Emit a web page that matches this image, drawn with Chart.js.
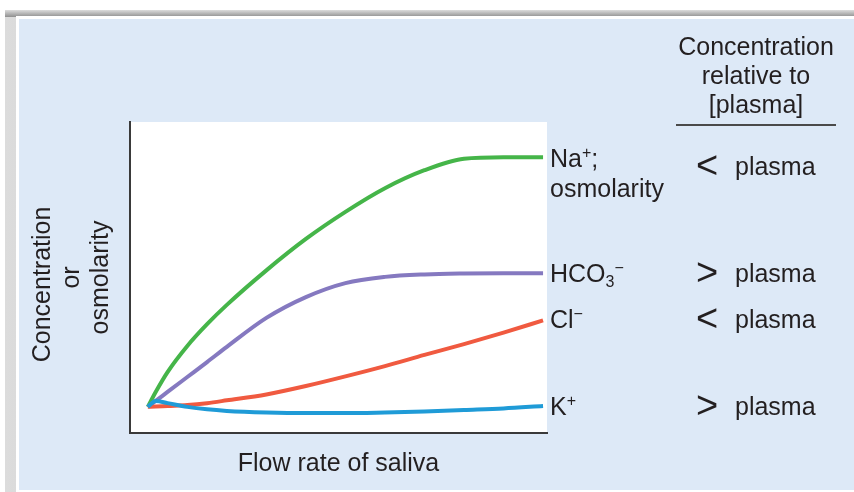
<!DOCTYPE html>
<html>
<head>
<meta charset="utf-8">
<script src="https://cdn.jsdelivr.net/npm/chart.js@4"></script>
<style>
  html, body { margin: 0; padding: 0; background: #fff; }
  body { width: 854px; height: 492px; position: relative; overflow: hidden;
         font-family: "Liberation Sans", Arial, sans-serif; color: #231f20; }
  .frame { position: absolute; left: 5px; top: 10px; right: 0; bottom: 0;
           background: linear-gradient(to right, #dcdcdc, #8f8f8f); }
  .frameTop { position: absolute; left: 5px; top: 10px; right: 0; height: 7px;
              background: linear-gradient(to bottom, #dcdcdc, #8f8f8f); }
  .inner { position: absolute; left: 16px; top: 16px; right: 0; bottom: 0; background: #fff; }
  .panel { position: absolute; left: 19px; top: 19px; right: 0; height: 471px; background: #dde9f7; }
  #wrap { position: absolute; left: 0; top: 0; width: 854px; height: 492px; }
  .lbl { position: absolute; font-size: 25px; line-height: 25px; white-space: nowrap; }
  .lbl sup { font-size: 16px; vertical-align: 9px; line-height: 0; }
  .lbl sub { font-size: 16px; vertical-align: -5px; line-height: 0; }
  .sym { position: absolute; font-size: 38px; line-height: 38px; }
  .head { position: absolute; left: 656px; top: 31.8px; width: 200px; text-align: center;
          font-size: 25px; line-height: 29px; }
  .rule { position: absolute; left: 676px; top: 124px; width: 160px; height: 2px; background: #4a4a4a; }
</style>
</head>
<body>
<div class="frame"></div>
<div class="frameTop"></div>
<div class="inner"></div>
<div class="panel"></div>
<div id="wrap"><canvas id="chart" width="854" height="492"></canvas></div>

<div class="head">Concentration<br>relative to<br>[plasma]</div>
<div class="rule"></div>

<div class="lbl" style="left:550px; top:145.8px">Na<sup>+</sup>;</div>
<div class="lbl" style="left:550px; top:175.8px">osmolarity</div>
<div class="lbl" style="left:550px; top:260.8px">HCO<sub>3</sub><sup>−</sup></div>
<div class="lbl" style="left:550px; top:306.8px">Cl<sup>−</sup></div>
<div class="lbl" style="left:550px; top:393.8px">K<sup>+</sup></div>

<div class="sym" style="left:696px; top:146px">&lt;</div>
<div class="lbl" style="left:735px; top:153.8px">plasma</div>
<div class="sym" style="left:696px; top:253px">&gt;</div>
<div class="lbl" style="left:735px; top:260.8px">plasma</div>
<div class="sym" style="left:696px; top:299px">&lt;</div>
<div class="lbl" style="left:735px; top:306.8px">plasma</div>
<div class="sym" style="left:696px; top:386px">&gt;</div>
<div class="lbl" style="left:735px; top:393.8px">plasma</div>

<script>
  // flow rate (arbitrary units) and concentrations
  const flowRate = [0, 2, 5, 10, 15, 20, 30, 40, 50, 60, 70, 80, 90, 100];
  const sodium = [8.4, 13.2, 19.6, 28.0, 35.0, 41.2, 52.3, 62.4, 71.1, 78.7, 84.5, 88.2, 88.7, 88.7];
  const bicarbonate = [8.4, 10.3, 13.2, 18.0, 22.8, 27.7, 37.0, 43.7, 48.2, 50.2, 51.0, 51.3, 51.4, 51.4];
  const chloride = [8.4, 8.5, 8.7, 9.0, 9.6, 10.5, 12.4, 15.1, 18.2, 21.5, 25.1, 28.6, 32.3, 36.2];
  const potassium = [8.4, 10.3, 9.6, 8.4, 7.6, 7.1, 6.6, 6.4, 6.4, 6.6, 6.9, 7.4, 7.9, 8.7];

  const yTitle = ["Concentration  ", "or", "osmolarity"];
  const xTitle = "Flow rate of saliva";

  function series(values) {
    return values.map((v, i) => ({ x: flowRate[i], y: v }));
  }

  function line(label, values, color) {
    return {
      label,
      data: series(values),
      borderColor: color,
      backgroundColor: color,
      borderWidth: 4,
      pointRadius: 0,
      cubicInterpolationMode: "monotone",
      borderCapStyle: "butt",
    };
  }

  const plotBg = {
    id: "plotBg",
    beforeDraw(chart) {
      const { ctx, chartArea: a } = chart;
      ctx.save();
      ctx.fillStyle = "#ffffff";
      ctx.fillRect(a.left, a.top, a.right - a.left, a.bottom - a.top);
      ctx.restore();
    },
  };

  const font = { family: "'Liberation Sans', Arial, sans-serif", size: 25 };

  new Chart(document.getElementById("chart"), {
    type: "line",
    data: {
      datasets: [
        line("K+", potassium, "#1f9bd7"),
        line("Cl-", chloride, "#f05a40"),
        line("HCO3-", bicarbonate, "#8579c0"),
        line("Na+", sodium, "#45b549"),
      ],
    },
    options: {
      responsive: false,
      animation: false,
      events: [],
      layout: { padding: { left: 0, top: 122, right: 307, bottom: 0 } },
      plugins: { legend: { display: false }, tooltip: { enabled: false } },
      scales: {
        x: {
          type: "linear",
          min: -4.5,
          max: 101,
          grid: { display: false },
          ticks: { display: false },
          border: { display: true, color: "#3a3a3a", width: 2 },
          title: { display: true, text: xTitle, color: "#231f20", font: { ...font, lineHeight: 1.2 }, padding: { top: 0, bottom: 13 } },
          afterFit(scale) { scale.height = 59; },
        },
        y: {
          min: 0,
          max: 100,
          grid: { display: false },
          ticks: { display: false },
          border: { display: true, color: "#3a3a3a", width: 2 },
          title: { display: true, text: yTitle, color: "#231f20", font: { ...font, lineHeight: 1.16 }, padding: { top: 28.5, bottom: 0 } },
          afterFit(scale) { scale.width = 130; },
        },
      },
    },
    plugins: [plotBg],
  });
</script>
</body>
</html>
